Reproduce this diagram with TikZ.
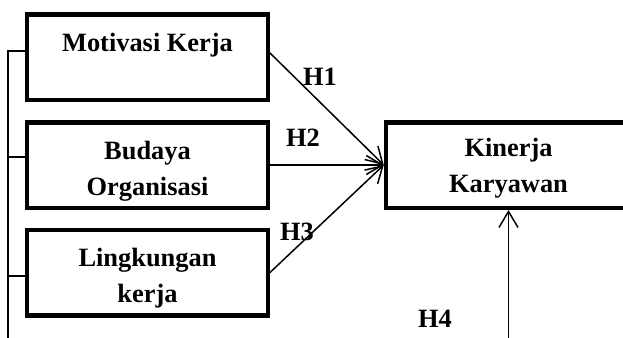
\documentclass[tikz,border=0pt]{standalone}
\usepackage{fontspec}
\setmainfont{Liberation Serif}
\usetikzlibrary{arrows.meta,calc}

\begin{document}
\begin{tikzpicture}[x=0.5pt,y=-0.5pt,>={Straight Barb[length=8pt,width=9.5pt]},
                    font=\fontsize{13.2}{18}\selectfont\bfseries,
                    every text node part/.style={align=center}]
  \tikzstyle{varbox}=[draw=black,line width=2.25pt,minimum width=120.25pt,
                      minimum height=42.75pt,inner sep=0pt]
  \tikzstyle{link}=[line width=0.75pt]
  \useasboundingbox (0,0) rectangle (623,338);

  \node[varbox] (MK) at (147.5,57)    {};
  \node[varbox] (BO) at (147.5,165)   {};
  \node[varbox] (LK) at (147.5,272.5) {};
  \node[varbox,minimum width=122.5pt] (KK) at (508.5,165) {};

  \node (tMK) at ($(MK)+(0,-12)$)  {Motivasi Kerja};
  \node (tBO) at ($(BO)+(0,6)$)    {Budaya\\Organisasi};
  \node (tLK) at ($(LK)+(0,6)$)    {Lingkungan\\kerja};
  \node (tKK) at ($(KK)+(0,3)$)    {Kinerja\\Karyawan};

  \coordinate (spine) at (8,345);
  \coordinate (base) at (KK.south |- 0,345);

  \draw[link] (spine) |- ($(MK.west)+(0,-6)$);
  \draw[link] (spine) |- ($(BO.west)+(0,-8)$);
  \draw[link] (spine) |- ($(LK.west)+(0,3.5)$);

  \draw[link,->] ($(MK.east)+(0,-4)$) -- (KK.west);
  \draw[link,->] (BO.east) -- (KK.west);
  \draw[link,->] (LK.east) -- (KK.west);
  \draw[link,->] (base) -- (KK.south);

  \node (h1) at (320,77)  {H1};
  \node (h2) at (303,138) {H2};
  \node (h3) at (297,232) {H3};
  \node (h4) at (435,319) {H4};
\end{tikzpicture}
\end{document}
